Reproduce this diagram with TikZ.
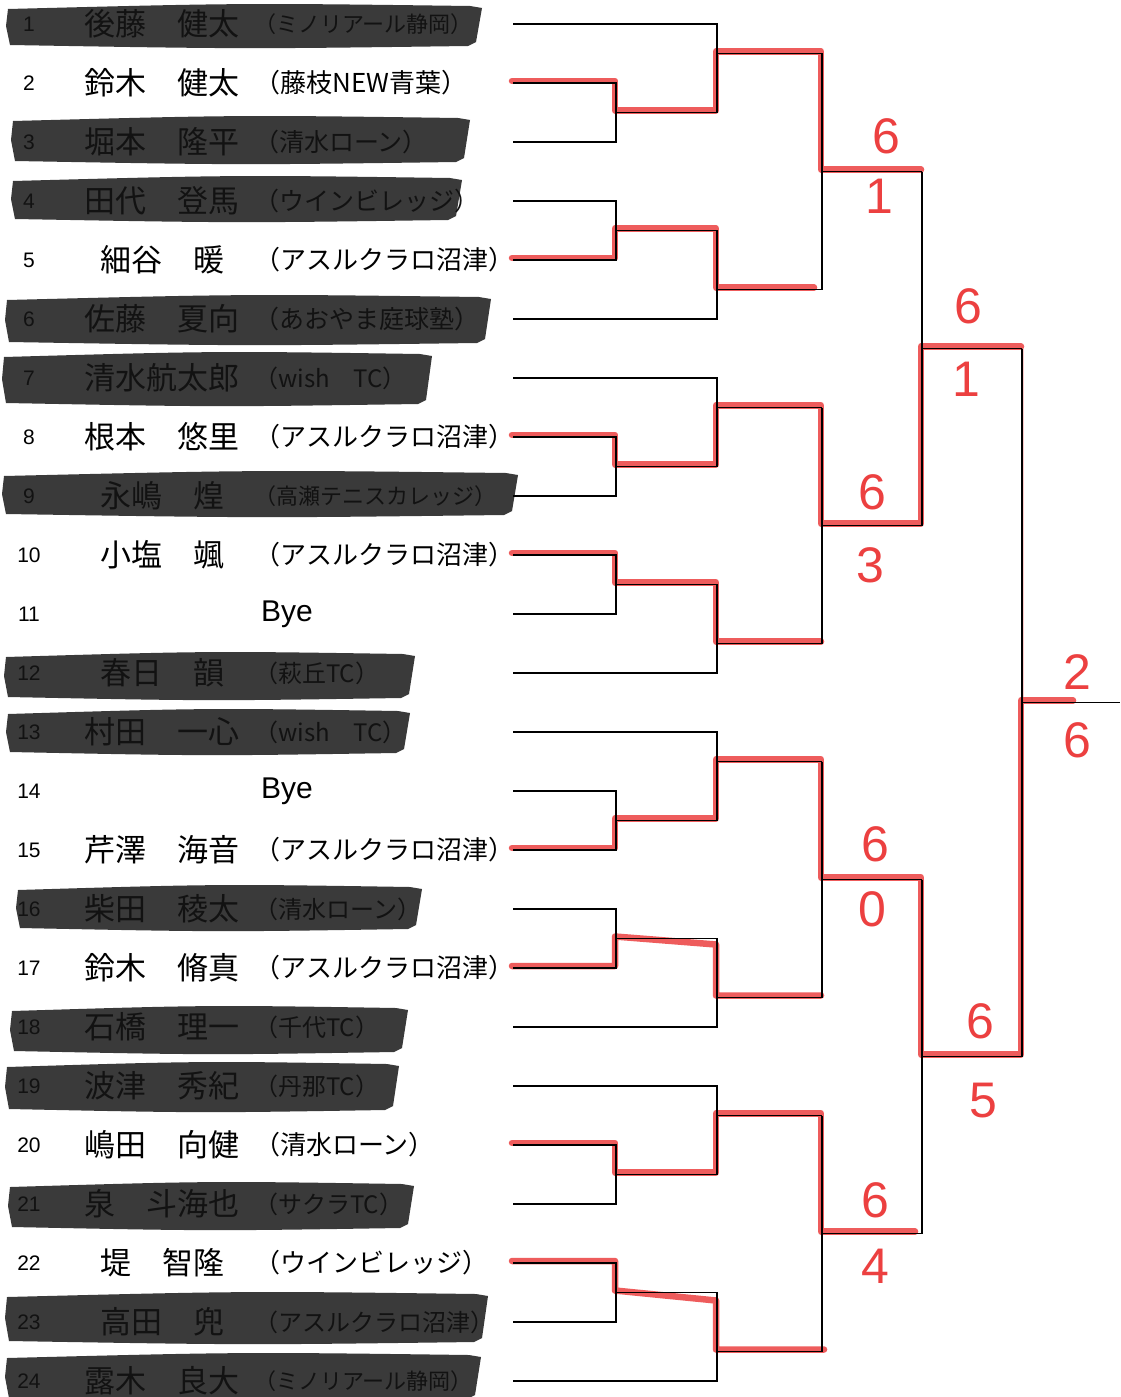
\documentclass[tikz,border=0pt]{standalone}
\usepackage{fontspec}
\setmainfont{Liberation Sans}
\newfontfamily\jp{Noto Sans CJK JP}
\usetikzlibrary{calc}
\pgfmathdeclarefunction{rowy}{1}{\pgfmathparse{59*#1-35}}
\definecolor{redmk}{RGB}{236,64,64}
\definecolor{inkc}{RGB}{58,58,58}
\definecolor{inktxt}{RGB}{18,18,18}
% marker bar covering a row
\newcommand\inkbar[4]{%
 \fill[inkfill] ({#1},{#3-#4/2+3}) .. controls ({(#1+#2)/2},{#3-#4/2-3}) .. ({#2-8},{#3-#4/2})
   -- ({#2+4},{#3-#4/2+2}) -- ({#2-2},{#3+#4/2-4}) -- ({#2-10},{#3+#4/2})
   .. controls ({(#1+#2)/2},{#3+#4/2+3}) .. ({#1+2},{#3+#4/2-1}) -- ({#1-2},{#3}) -- cycle;}
% one entry of the draw
\newcommand\plrow[5]{%
 \node[num,#5] (n#1) at (29,{rowy(#1)}) {#1};
 \node[nm,#5] (nm#1) at (162,{rowy(#1)}) {#2};
 \node[club,#5,font=\jp\fontsize{#4}{#4}\selectfont] (cl#1) at (254,{rowy(#1)}) {#3};}
\begin{document}
\begin{tikzpicture}[x=1pt,y=-1pt,
  wire/.style={draw=black,line width=1.7pt,line join=miter},
  win/.style={draw=redmk,line width=6.5pt,line cap=round,line join=round,opacity=0.85,
              transform canvas={shift={(-1pt,2pt)}}},
  faint/.style={draw=redmk,line width=3pt,opacity=0.28},
  num/.style={font=\fontsize{21}{21}\selectfont,anchor=center,inner sep=0pt},
  nm/.style={font=\jp\fontsize{31}{31}\selectfont,anchor=center,inner sep=0pt},
  club/.style={anchor=west,inner sep=0pt},
  byetxt/.style={font=\fontsize{30}{30}\selectfont,anchor=center,inner sep=0pt},
  score/.style={font=\fontsize{50}{50}\selectfont,text=redmk,anchor=center,inner sep=0pt},
  inkfill/.style={fill=inkc},
  shown/.style={text=black},
  hid/.style={text=inktxt},
]
\fill[white] (0,0) rectangle (1120,1397);
\useasboundingbox (0,0) rectangle (1120,1397);

% ---------- named rows and columns ----------
\foreach \i in {1,...,24}{
  \coordinate (r\i) at (0,{rowy(\i)});
  \coordinate (h\i) at (0,{rowy(\i+0.5)});
}
\coordinate (c0) at (513,0);
\coordinate (c1) at (616,0);
\coordinate (c2) at (717,0);
\coordinate (c3) at (822,0);
\coordinate (c4) at (922,0);
\coordinate (c5) at (1022,0);
\coordinate (c6) at (1120,0);

% ---------- marker bars ----------
\inkbar{8}{478}{26}{40}
\inkbar{13}{466}{140}{44}
\inkbar{13}{458}{199}{42}
\inkbar{7}{487}{320}{46}
\inkbar{4}{428}{379}{50}
\inkbar{4}{514}{494}{42}
\inkbar{6}{411}{676}{44}
\inkbar{8}{406}{732}{42}
\inkbar{18}{418}{908}{42}
\inkbar{12}{404}{1030}{44}
\inkbar{7}{395}{1087}{46}
\inkbar{10}{410}{1206}{44}
\inkbar{7}{484}{1318}{48}
\inkbar{7}{477}{1377}{44}

% ---------- entries ----------
\plrow{1}{後藤　健太}{（ミノリアール静岡）}{22}{hid}
\plrow{2}{鈴木　健太}{（藤枝NEW青葉）}{26}{shown}
\plrow{3}{堀本　隆平}{（清水ローン）}{25}{hid}
\plrow{4}{田代　登馬}{（ウインビレッジ）}{25}{hid}
\plrow{5}{細谷　暖}{（アスルクラロ沼津）}{26}{shown}
\plrow{6}{佐藤　夏向}{（あおやま庭球塾）}{25}{hid}
\plrow{7}{清水航太郎}{（wish　TC）}{24}{hid}
\plrow{8}{根本　悠里}{（アスルクラロ沼津）}{26}{shown}
\plrow{9}{永嶋　煌}{（高瀬テニスカレッジ）}{22}{hid}
\plrow{10}{小塩　颯}{（アスルクラロ沼津）}{26}{shown}
\node[num] (n11) at (29,{rowy(11)}) {11};
\node[byetxt] (bye11) at (287,{rowy(11)}) {Bye};
\plrow{12}{春日　韻}{（萩丘TC）}{24}{hid}
\plrow{13}{村田　一心}{（wish　TC）}{24}{hid}
\node[num] (n14) at (29,{rowy(14)}) {14};
\node[byetxt] (bye14) at (287,{rowy(14)}) {Bye};
\plrow{15}{芹澤　海音}{（アスルクラロ沼津）}{26}{shown}
\plrow{16}{柴田　稜太}{（清水ローン）}{24}{hid}
\plrow{17}{鈴木　脩真}{（アスルクラロ沼津）}{26}{shown}
\plrow{18}{石橋　理一}{（千代TC）}{24}{hid}
\plrow{19}{波津　秀紀}{（丹那TC）}{24}{hid}
\plrow{20}{嶋田　向健}{（清水ローン）}{26}{shown}
\plrow{21}{泉　斗海也}{（サクラTC）}{24}{hid}
\plrow{22}{堤　智隆}{（ウインビレッジ）}{26}{shown}
\plrow{23}{高田　兜}{（アスルクラロ沼津）}{24}{hid}
\plrow{24}{露木　良大}{（ミノリアール静岡）}{22}{hid}

% ---------- red winner paths ----------
\draw[win] (r2 -| c0) -- (r2 -| c1) -- (h2 -| c1) -- (h2 -| c2) -- (h1 -| c2) -- (h1 -| c3) -- (h3 -| c3) -- (h3 -| c4);
\draw[win] (r5 -| c0) -- (r5 -| c1) -- (h4 -| c1) -- (h4 -| c2) -- (h5 -| c2) -- ($(h5 -| c3)+(-7,0)$);
\draw[win] (r8 -| c0) -- (r8 -| c1) -- (h8 -| c1) -- (h8 -| c2) -- (h7 -| c2) -- (h7 -| c3) -- (h9 -| c3) -- (h9 -| c4) -- (h6 -| c4) -- (h6 -| c5);
\draw[win] (r10 -| c0) -- (r10 -| c1) -- (h10 -| c1) -- (h10 -| c2) -- (h11 -| c2) -- (h11 -| c3);
\draw[faint] (h6 -| c5) -- (h12 -| c5);
\draw[win] (r15 -| c0) -- (r15 -| c1) -- (h14 -| c1) -- (h14 -| c2) -- (h13 -| c2) -- (h13 -| c3) -- (h15 -| c3) -- (h15 -| c4) -- (h18 -| c4) -- (h18 -| c5) -- (h12 -| c5) -- ($(h12 -| c5)+(52,0)$);
\draw[win] (r17 -| c0) -- (r17 -| c1) -- (h16 -| c1) -- ($(h16 -| c2)+(0,8)$) -- (h17 -| c2) -- (h17 -| c3);
\draw[win] (r20 -| c0) -- (r20 -| c1) -- (h20 -| c1) -- (h20 -| c2) -- (h19 -| c2) -- (h19 -| c3) -- (h21 -| c3) -- ($(h21 -| c4)+(-6,0)$);
\draw[win] (r22 -| c0) -- (r22 -| c1) -- (h22 -| c1) -- ($(h22 -| c2)+(0,10)$) -- (h23 -| c2) -- ($(h23 -| c3)+(3,0)$);

% ---------- printed bracket ----------
\foreach \b in {0,6,12,18}{
  \pgfmathtruncatemacro\ra{\b+1}
  \pgfmathtruncatemacro\rb{\b+2}
  \pgfmathtruncatemacro\rc{\b+3}
  \pgfmathtruncatemacro\rd{\b+4}
  \pgfmathtruncatemacro\re{\b+5}
  \pgfmathtruncatemacro\rf{\b+6}
  \draw[wire] (r\rb -| c0) -- (r\rb -| c1) -- (r\rc -| c1) -- (r\rc -| c0);
  \draw[wire] (h\rb -| c1) -- (h\rb -| c2);
  \draw[wire] (r\ra -| c0) -- (r\ra -| c2) -- (h\rb -| c2);
  \draw[wire] (h\ra -| c2) -- (h\ra -| c3);
  \draw[wire] (r\rd -| c0) -- (r\rd -| c1) -- (r\re -| c1) -- (r\re -| c0);
  \draw[wire] (h\rd -| c1) -- (h\rd -| c2) -- (r\rf -| c2) -- (r\rf -| c0);
  \draw[wire] (h\re -| c2) -- (h\re -| c3);
  \draw[wire] (h\ra -| c3) -- (h\re -| c3);
  \draw[wire] (h\rc -| c3) -- (h\rc -| c4);
}
\draw[wire] (h3 -| c4) -- (h9 -| c4);
\draw[wire] (h6 -| c4) -- (h6 -| c5);
\draw[wire] (h15 -| c4) -- (h21 -| c4);
\draw[wire] (h18 -| c4) -- (h18 -| c5);
\draw[wire] (h6 -| c5) -- (h18 -| c5);
\draw[wire] (h12 -| c5) -- (h12 -| c6);

% ---------- handwritten scores ----------
\node[score] (sa1) at (886,136) {6};
\node[score] (sb1) at (879,196) {1};
\node[score] (sa2) at (872,492) {6};
\node[score] (sb2) at (870,565) {3};
\node[score] (sa5) at (968,306) {6};
\node[score] (sb5) at (966,379) {1};
\node[score] (fa) at (1077,672) {2};
\node[score] (fb) at (1077,740) {6};
\node[score] (sa3) at (875,844) {6};
\node[score] (sb3) at (872,909) {0};
\node[score] (sa6) at (980,1021) {6};
\node[score] (sb6) at (983,1101) {5};
\node[score] (sa4) at (875,1200) {6};
\node[score] (sb4) at (875,1266) {4};
\end{tikzpicture}
\end{document}
